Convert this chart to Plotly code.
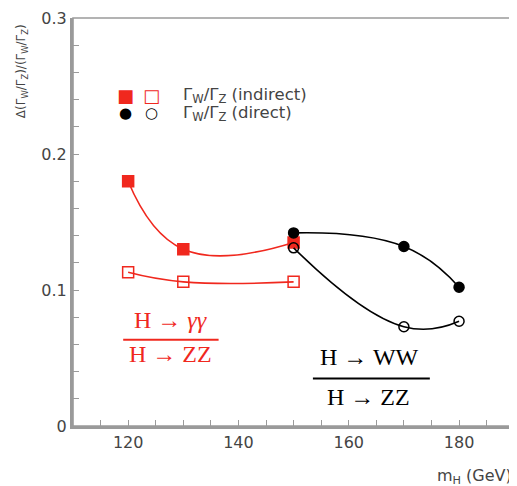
import plotly.graph_objects as go

# data
mh_gg = [120, 130, 150]
gg_indirect = [0.180, 0.130, 0.135]
gg_direct = [0.113, 0.106, 0.106]
mh_ww = [150, 170, 180]
ww_indirect = [0.142, 0.132, 0.102]
ww_direct = [0.131, 0.073, 0.077]

RED = "#f0281e"
GRAY = "#9a9a9a"
TXT = "#444444"
SANS = "DejaVu Sans"
SER = "Liberation Serif"

fig = go.Figure()

def add(x, y, color, symbol, size):
    fig.add_trace(go.Scatter(
        x=x, y=y, mode="lines+markers",
        line=dict(color=color, width=1.6, shape="spline", smoothing=1.3),
        marker=dict(symbol=symbol, size=size, color=color,
                    line=dict(color=color, width=1.5)),
        showlegend=False, hoverinfo="skip"))

add(mh_gg, gg_direct, RED, "square-open", 11)
add(mh_gg, gg_indirect, RED, "square", 11)
add(mh_ww, ww_direct, "black", "circle-open", 10)
add(mh_ww, ww_indirect, "black", "circle", 10)

def txt(x, y, text, color, size, family, xanchor="center"):
    return dict(x=x, y=y, text=text, font=dict(color=color, size=size, family=family),
                showarrow=False, xanchor=xanchor, yanchor="middle")

ann = [
    txt(119.5, 0.243, "■", RED, 18, SANS),
    txt(124.2, 0.243, "□", RED, 18, SANS),
    txt(119.5, 0.2299, "●", "black", 15, SANS),
    txt(124.2, 0.2299, "○", "black", 15, SANS),
    txt(129.6, 0.243, "Γ<sub>W</sub>/Γ<sub>Z</sub> (indirect)", TXT, 16.5, SANS, "left"),
    txt(129.6, 0.2299, "Γ<sub>W</sub>/Γ<sub>Z</sub> (direct)", TXT, 16.5, SANS, "left"),
    txt(127.6, 0.0781, "H → <i>γγ</i>", RED, 24, SER),
    txt(127.6, 0.0533, "H → ZZ", RED, 24, SER),
    txt(163.8, 0.0504, "H → WW", "black", 24, SER),
    txt(163.6, 0.0212, "H → ZZ", "black", 24, SER),
    dict(xref="paper", yref="paper", x=-0.116, y=0.99, textangle=-90,
         text="Δ(Γ<sub>W</sub>/Γ<sub>Z</sub>)/(Γ<sub>W</sub>/Γ<sub>Z</sub>)",
         font=dict(color=TXT, size=12, family=SANS),
         showarrow=False, xanchor="center", yanchor="top"),
    dict(xref="paper", yref="paper", x=1.004, y=-0.124,
         text="m<sub>H</sub> (GeV)",
         font=dict(color=TXT, size=16, family=SANS),
         showarrow=False, xanchor="right", yanchor="middle"),
]

shapes = [
    dict(type="line", xref="x", yref="y", x0=119.1, x1=136.4, y0=0.0635, y1=0.0635,
         line=dict(color=RED, width=2)),
    dict(type="line", xref="x", yref="y", x0=153.5, x1=174.7, y0=0.035, y1=0.035,
         line=dict(color="black", width=2)),
    dict(type="rect", xref="paper", yref="paper", x0=0, x1=1, y0=0, y1=1,
         line=dict(color=GRAY, width=1.6), layer="below"),
]

tickfont = dict(color=TXT, size=16, family=SANS)
fig.update_layout(
    width=505, height=478,
    margin=dict(l=65, r=1, t=7, b=60),
    paper_bgcolor="white", plot_bgcolor="white",
    annotations=ann, shapes=shapes,
    xaxis=dict(range=[110, 189.6], tick0=120, dtick=20, ticks="inside", ticklen=6,
               tickcolor=GRAY, showline=True, linecolor=GRAY, linewidth=3,
               showgrid=False, zeroline=False, tickfont=tickfont,
               ticklabeloverflow="allow",
               minor=dict(dtick=5, ticks="inside", ticklen=6, tickcolor=GRAY)),
    yaxis=dict(range=[0, 0.3], tick0=0, dtick=0.1, ticks="inside", ticklen=6,
               tickcolor=GRAY, showline=True, linecolor=GRAY, linewidth=3,
               showgrid=False, zeroline=False, tickfont=tickfont,
               ticklabeloverflow="allow",
               minor=dict(dtick=0.02, ticks="inside", ticklen=6, tickcolor=GRAY)),
)

fig.write_html("out.html")
